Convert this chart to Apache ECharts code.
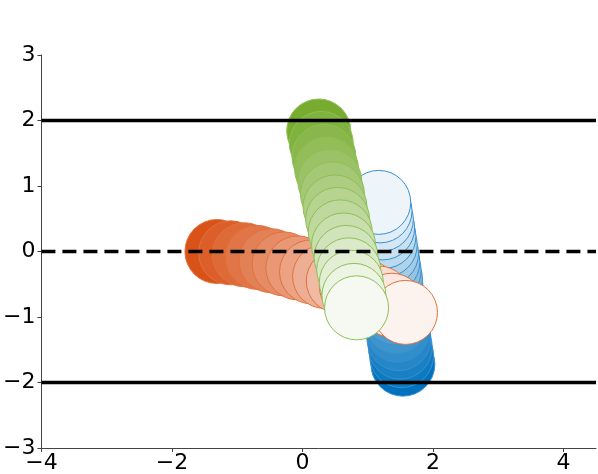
<!DOCTYPE html>
<html>
<head>
<meta charset="utf-8">
<script src="https://cdn.jsdelivr.net/npm/echarts@6/dist/echarts.min.js"></script>
<style>
  html, body { margin: 0; padding: 0; background: #fff; }
  #chart { width: 598px; height: 474px; }
</style>
</head>
<body>
<div id="chart"></div>
<script>
    // 三组圆点轨迹（深色 -> 浅色）
    var orangeX = [-1.31, -1.10, -0.89, -0.69, -0.48, -0.28, -0.07, 0.14, 0.34, 0.55, 0.75, 0.96, 1.17, 1.37, 1.58];
    var orangeY = [0.00, -0.02, -0.05, -0.09, -0.14, -0.19, -0.25, -0.31, -0.38, -0.45, -0.53, -0.61, -0.71, -0.82, -0.93];

    var greenX = [0.25, 0.29, 0.33, 0.37, 0.42, 0.46, 0.50, 0.54, 0.58, 0.63, 0.67, 0.71, 0.75, 0.79, 0.83];
    var greenY = [1.84, 1.65, 1.45, 1.26, 1.07, 0.88, 0.68, 0.49, 0.30, 0.10, -0.09, -0.28, -0.47, -0.67, -0.86];

    var blueX = [1.54, 1.52, 1.50, 1.48, 1.46, 1.44, 1.42, 1.40, 1.38, 1.36, 1.35, 1.33, 1.31, 1.29, 1.27, 1.25, 1.23, 1.21, 1.19, 1.17];
    var blueY = [-1.72, -1.59, -1.46, -1.33, -1.20, -1.07, -0.94, -0.81, -0.68, -0.55, -0.42, -0.29, -0.16, -0.03, 0.10, 0.23, 0.36, 0.49, 0.62, 0.75];

    // 参考线
    var solidLevels = [2, -2];
    var dashedLevels = [0];
    var xTicks = [-4, -2, 0, 2, 4];

    var xMin = -4, xMax = 4.5;

    var mix = function (hex, t) {
        var r = parseInt(hex.slice(1, 3), 16);
        var g = parseInt(hex.slice(3, 5), 16);
        var b = parseInt(hex.slice(5, 7), 16);
        r = Math.round(r + (255 - r) * t);
        g = Math.round(g + (255 - g) * t);
        b = Math.round(b + (255 - b) * t);
        return 'rgb(' + r + ',' + g + ',' + b + ')';
    };

    var buildDots = function (xs, ys, base, edge) {
        var n = xs.length;
        return xs.map(function (x, i) {
            var t = n > 1 ? 0.93 * i / (n - 1) : 0;
            return {
                value: [x, ys[i]],
                itemStyle: {
                    color: mix(base, t),
                    borderColor: edge,
                    borderWidth: 1,
                    opacity: 1
                }
            };
        });
    };

    var minusFmt = function (v) {
        return String(v).replace('-', '\u2212');
    };

    var lineSeries = function (level, dashed) {
        return {
            type: 'line',
            data: [[xMin, level], [xMax, level]],
            symbol: 'none',
            silent: true,
            z: 10,
            lineStyle: {
                color: '#000',
                width: 3.5,
                type: dashed ? [14, 7] : 'solid'
            }
        };
    };

    var series = [
        {
            type: 'scatter',
            symbolSize: 64,
            z: 2,
            data: buildDots(blueX, blueY, '#0072bd', '#3a8fd0')
        },
        {
            type: 'scatter',
            symbolSize: 64,
            z: 3,
            data: buildDots(orangeX, orangeY, '#d95319', '#e2703f')
        },
        {
            type: 'scatter',
            symbolSize: 64,
            z: 4,
            data: buildDots(greenX, greenY, '#77ac30', '#8fbf57')
        }
    ];
    solidLevels.forEach(function (l) { series.push(lineSeries(l, false)); });
    dashedLevels.forEach(function (l) { series.push(lineSeries(l, true)); });

    var option = {
        animation: false,
        grid: { left: 40, right: 2, top: 55, bottom: 25, containLabel: false },
        xAxis: {
            type: 'value',
            min: xMin,
            max: xMax,
            interval: 2,
            splitLine: { show: false },
            axisLine: { onZero: false, lineStyle: { color: '#444', width: 1 } },
            axisTick: { show: true, length: 4, lineStyle: { color: '#444' },
                customValues: xTicks },
            axisLabel: {
                customValues: xTicks,
                color: '#000', fontSize: 22, fontFamily: 'DejaVu Sans', margin: 4,
                formatter: minusFmt
            }
        },
        yAxis: {
            type: 'value',
            min: -3,
            max: 3,
            interval: 1,
            splitLine: { show: false },
            axisLine: { show: true, onZero: false, lineStyle: { color: '#444', width: 1 } },
            axisTick: { show: true, length: 4, lineStyle: { color: '#444' } },
            axisLabel: {
                color: '#000', fontSize: 22, fontFamily: 'DejaVu Sans', margin: 6,
                formatter: minusFmt
            }
        },
        series: series
    };

    var myChart = echarts.init(document.getElementById('chart'));
    myChart.setOption(option);
</script>
</body>
</html>
